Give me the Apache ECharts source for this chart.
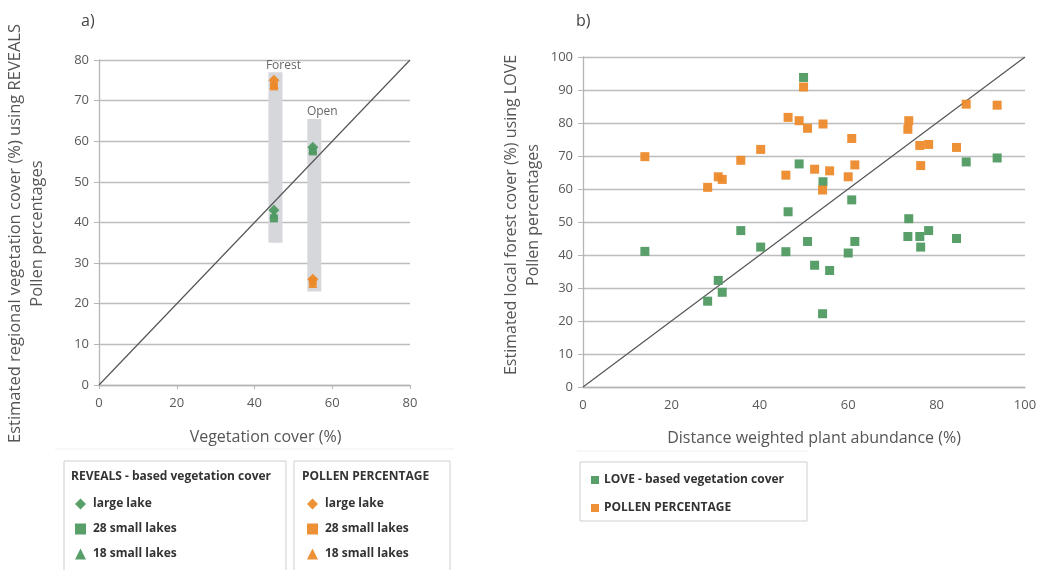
<!DOCTYPE html>
<html>
<head>
<meta charset="utf-8">
<script src="https://cdn.jsdelivr.net/npm/echarts@6/dist/echarts.min.js"></script>
<style>
  html, body { margin: 0; padding: 0; background: #fff; }
  #chart { width: 1041px; height: 570px; }
</style>
</head>
<body>
<div id="chart"></div>
<script>
// ---- Panel a: regional cover at the forest and open sites ----
const siteCover = [45, 55];            // vegetation cover (%)
const siteNames = ['Forest', 'Open'];
const siteRangeLow = [35, 23];
const siteRangeHigh = [77, 65.5];
const revealsLarge = [43, 58.5];
const reveals28 = [41, 57.5];
const reveals18 = [42, 58];
const pollenLarge = [75, 26];
const pollen28 = [73.5, 25.5];
const pollen18 = [74, 25];

// ---- Panel b: local forest cover per site ----
const plantAbundance = [14, 28.2, 30.6, 31.5, 35.7, 40.2, 45.9, 46.4, 48.9, 49.9, 50.8, 52.4, 54.3,
  54.2, 55.8, 60, 60.8, 61.5, 73.7, 73.5, 76.2, 76.4, 78.2, 84.5, 86.7, 93.7];
const loveCover = [41.1, 26.0, 32.3, 28.7, 47.4, 42.4, 41.0, 53.1, 67.6, 93.8, 44.1, 36.9, 62.2,
  22.2, 35.3, 40.6, 56.7, 44.1, 51.0, 45.6, 45.6, 42.4, 47.4, 45.0, 68.2, 69.4];
const pollenPct = [69.8, 60.5, 63.7, 62.9, 68.7, 72.0, 64.2, 81.7, 80.7, 90.9, 78.4, 66.0, 79.7,
  59.7, 65.5, 63.7, 75.3, 67.3, 80.7, 78.1, 73.2, 67.1, 73.5, 72.6, 85.7, 85.4];

const ticksA = { x: [0, 80, 20], y: [0, 80, 10] };
const ticksB = { x: [0, 100, 20], y: [0, 100, 10] };

const GREEN = '#4f9a62';
const ORANGE = '#ec8a2b';
const FONT = 'Open Sans';
const GRID_LINE = { lineStyle: { color: '#bdbdbd', width: 1.3 } };
const AXIS_LINE = { lineStyle: { color: '#b5b5b5', width: 1.3 } };
const LABEL = { color: '#595959', fontSize: 13, fontFamily: FONT };

const pair = (xs, ys) => xs.map((x, i) => [x, ys[i]]);

const chart = echarts.init(document.getElementById('chart'), null, { renderer: 'canvas' });

function scatter(name, axis, symbol, color, data, size) {
  return {
    name, type: 'scatter', xAxisIndex: axis, yAxisIndex: axis,
    symbol, symbolSize: size, data, z: 5,
    itemStyle: { color, opacity: 0.95 }
  };
}

const option = {
  animation: false,
  backgroundColor: '#fff',
  textStyle: { fontFamily: FONT },
  title: [
    { text: 'a)', left: 76, top: 8, textStyle: { fontSize: 16, fontWeight: 'normal', color: '#444', fontFamily: FONT } },
    { text: 'b)', left: 571, top: 8, textStyle: { fontSize: 16, fontWeight: 'normal', color: '#444', fontFamily: FONT } }
  ],
  grid: [
    { left: 99, right: 631, top: 57, bottom: 185 },
    { left: 583, right: 16, top: 57, bottom: 183 }
  ],
  xAxis: [
    {
      gridIndex: 0, type: 'value', min: ticksA.x[0], max: ticksA.x[1], interval: ticksA.x[2],
      name: 'Vegetation cover (%)', nameLocation: 'middle', nameGap: 44,
      nameTextStyle: { fontSize: 16, color: '#555', fontFamily: FONT, padding: [0, 0, 0, 22] },
      axisLine: AXIS_LINE, axisTick: { show: true, length: 4, lineStyle: { color: '#b5b5b5' } },
      axisLabel: Object.assign({ margin: 12 }, LABEL), splitLine: { show: false }
    },
    {
      gridIndex: 1, type: 'value', min: ticksB.x[0], max: ticksB.x[1], interval: ticksB.x[2],
      name: 'Distance weighted plant abundance (%)', nameLocation: 'middle', nameGap: 43,
      nameTextStyle: { fontSize: 16, color: '#555', fontFamily: FONT, padding: [0, 0, 0, 20] },
      axisLine: AXIS_LINE, axisTick: { show: false },
      axisLabel: Object.assign({ margin: 12 }, LABEL), splitLine: { show: false }
    }
  ],
  yAxis: [
    {
      gridIndex: 0, type: 'value', min: ticksA.y[0], max: ticksA.y[1], interval: ticksA.y[2],
      name: 'Estimated regional vegetation cover (%) using REVEALS\nPollen percentages',
      nameLocation: 'middle', nameGap: 51,
      nameTextStyle: { fontSize: 16.5, color: '#555', fontFamily: FONT, lineHeight: 22, padding: [0, 22, 0, 0] },
      axisLine: { show: true, lineStyle: { color: '#b5b5b5', width: 1.3 } },
      axisTick: { show: true, length: 5, lineStyle: { color: '#b5b5b5' } },
      axisLabel: Object.assign({ margin: 10 }, LABEL), splitLine: GRID_LINE
    },
    {
      gridIndex: 1, type: 'value', min: ticksB.y[0], max: ticksB.y[1], interval: ticksB.y[2],
      name: 'Estimated local forest cover (%) using LOVE\nPollen percentages',
      nameLocation: 'middle', nameGap: 39,
      nameTextStyle: { fontSize: 16, color: '#555', fontFamily: FONT, lineHeight: 22, padding: [0, 0, 0, 14] },
      axisLine: { show: true, lineStyle: { color: '#b5b5b5', width: 1.3 } },
      axisTick: { show: true, length: 5, lineStyle: { color: '#b5b5b5' } },
      axisLabel: Object.assign({ margin: 10 }, LABEL), splitLine: GRID_LINE
    }
  ],
  legend: [
    {
      left: 70, top: 493, orient: 'vertical', itemGap: 13, itemWidth: 11, itemHeight: 11,
      data: [
        { name: 'REVEALS|large lake', icon: 'diamond' },
        { name: 'REVEALS|28 small lakes', icon: 'rect' },
        { name: 'REVEALS|18 small lakes', icon: 'triangle' }
      ],
      formatter: n => n.split('|')[1],
      textStyle: { fontSize: 12, color: '#333', fontWeight: 'bold', fontFamily: FONT, padding: [0, 0, 0, 2] }
    },
    {
      left: 302, top: 493, orient: 'vertical', itemGap: 13, itemWidth: 11, itemHeight: 11,
      data: [
        { name: 'POLLEN|large lake', icon: 'diamond' },
        { name: 'POLLEN|28 small lakes', icon: 'rect' },
        { name: 'POLLEN|18 small lakes', icon: 'triangle' }
      ],
      formatter: n => n.split('|')[1],
      textStyle: { fontSize: 12, color: '#333', fontWeight: 'bold', fontFamily: FONT, padding: [0, 0, 0, 2] }
    },
    {
      left: 586, top: 469, orient: 'vertical', itemGap: 16, itemWidth: 8, itemHeight: 8,
      data: [
        { name: 'LOVE - based vegetation cover', icon: 'rect' },
        { name: 'POLLEN PERCENTAGE', icon: 'rect' }
      ],
      textStyle: { fontSize: 12, color: '#333', fontWeight: 'bold', fontFamily: FONT }
    }
  ],
  graphic: [
    { type: 'line', shape: { x1: 55, y1: 449, x2: 454, y2: 449 }, style: { stroke: '#efefef', lineWidth: 1 }, silent: true },
    { type: 'line', shape: { x1: 577, y1: 451, x2: 808, y2: 451 }, style: { stroke: '#efefef', lineWidth: 1 }, silent: true },
    { type: 'rect', shape: { x: 64, y: 461, width: 222, height: 130 }, style: { fill: 'none', stroke: '#cfcfcf', lineWidth: 1 }, silent: true },
    { type: 'rect', shape: { x: 294, y: 461, width: 156, height: 130 }, style: { fill: 'none', stroke: '#cfcfcf', lineWidth: 1 }, silent: true },
    { type: 'rect', shape: { x: 580, y: 462, width: 227, height: 59 }, style: { fill: 'none', stroke: '#cfcfcf', lineWidth: 1 }, silent: true },
    { type: 'text', left: 71, top: 471, style: { text: 'REVEALS - based vegetation cover', fill: '#333', font: 'bold 12px "Open Sans"' } },
    { type: 'text', left: 302, top: 471, style: { text: 'POLLEN PERCENTAGE', fill: '#333', font: 'bold 12px "Open Sans"' } }
  ],
  series: [
    {
      name: 'site range', type: 'custom', xAxisIndex: 0, yAxisIndex: 0, z: 1,
      data: siteCover.map((x, i) => [x, siteRangeLow[i], siteRangeHigh[i]]),
      renderItem: function (params, api) {
        const top = api.coord([api.value(0), api.value(2)]);
        const bottom = api.coord([api.value(0), api.value(1)]);
        const cx = top[0] + 1.5;
        return {
          type: 'group',
          children: [
            { type: 'rect', shape: { x: cx - 7, y: top[1], width: 14, height: bottom[1] - top[1] },
              style: { fill: '#d5d7db' } },
            { type: 'text', style: { text: siteNames[params.dataIndex], x: cx + 8, y: top[1] - 7,
              align: 'center', verticalAlign: 'middle', fill: '#666', font: '12px "Open Sans"' } }
          ]
        };
      }
    },
    {
      name: '1:1 a', type: 'line', xAxisIndex: 0, yAxisIndex: 0, z: 3, symbol: 'none',
      data: [[ticksA.x[0], ticksA.y[0]], [ticksA.x[1], ticksA.y[1]]],
      lineStyle: { color: '#555', width: 1.2 }
    },
    {
      name: '1:1 b', type: 'line', xAxisIndex: 1, yAxisIndex: 1, z: 3, symbol: 'none',
      data: [[ticksB.x[0], ticksB.y[0]], [ticksB.x[1], ticksB.y[1]]],
      lineStyle: { color: '#555', width: 1.2 }
    },
    scatter('REVEALS|large lake', 0, 'diamond', GREEN, pair(siteCover, revealsLarge), 11),
    scatter('REVEALS|28 small lakes', 0, 'rect', GREEN, pair(siteCover, reveals28), 8),
    scatter('REVEALS|18 small lakes', 0, 'triangle', GREEN, pair(siteCover, reveals18), 9),
    scatter('POLLEN|large lake', 0, 'diamond', ORANGE, pair(siteCover, pollenLarge), 11),
    scatter('POLLEN|28 small lakes', 0, 'rect', ORANGE, pair(siteCover, pollen28), 8),
    scatter('POLLEN|18 small lakes', 0, 'triangle', ORANGE, pair(siteCover, pollen18), 9),
    scatter('LOVE - based vegetation cover', 1, 'rect', GREEN, pair(plantAbundance, loveCover), 9),
    scatter('POLLEN PERCENTAGE', 1, 'rect', ORANGE, pair(plantAbundance, pollenPct), 9)
  ]
};

chart.setOption(option);
</script>
</body>
</html>
